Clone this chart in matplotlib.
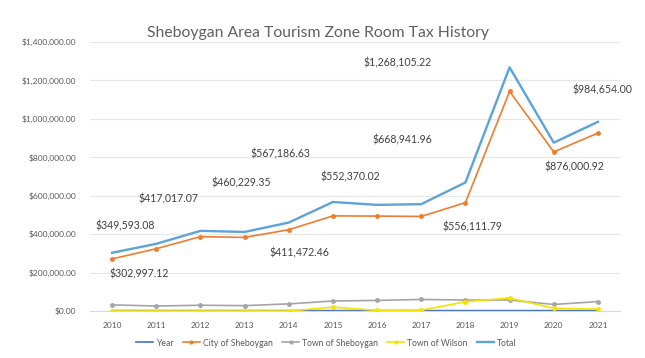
import matplotlib.pyplot as plt
from matplotlib.ticker import FuncFormatter

years = [2010, 2011, 2012, 2013, 2014, 2015, 2016, 2017, 2018, 2019, 2020, 2021]
city = [271000, 324000, 387000, 383000, 423000, 495000, 494000, 492000, 564000, 1143000, 828000, 926000]
town_sheb = [32000, 26000, 30000, 28000, 37000, 52000, 55000, 60000, 57000, 57000, 34000, 49000]
town_wilson = [0, 0, 0, 0, 0, 20000, 3000, 4000, 48000, 68000, 14000, 10000]
total = [302997.12, 349593.08, 417017.07, 411472.46, 460229.35, 567186.63,
         552370.02, 556111.79, 668941.96, 1268105.22, 876000.92, 984654.00]

# data labels, dragged around by hand in the original (figure pixel positions)
label_pos = [(139, 274), (125, 226), (169, 199), (299, 253), (241, 183), (280, 154),
             (350, 177), (472, 227), (402, 140), (398, 63), (574, 167), (602, 90)]

plt.rcParams['font.family'] = ['Lato', 'DejaVu Sans']

fig = plt.figure(figsize=(6.45, 3.58), dpi=100)
ax = fig.add_axes([90/645, 1-311/358, 530/645, 269/358])

x = list(range(len(years)))
ax.plot(x, years, color='#4472C4', lw=1.2, label='Year', zorder=2)
ax.plot(x, city, color='#ED7D31', lw=1.2, marker='o', ms=2.5, label='City of Sheboygan', zorder=3)
ax.plot(x, town_sheb, color='#A5A5A5', lw=1.2, marker='o', ms=2.5, label='Town of Sheboygan', zorder=3)
ax.plot(x, town_wilson, color='#F5E400', lw=1.2, marker='o', ms=2.5, label='Town of Wilson', zorder=4)
ax.plot(x, total, color='#5BA3D9', lw=1.7, label='Total', zorder=3)

ax.set_xlim(-0.5, len(years) - 0.5)
ax.set_ylim(0, 1400000)
ax.set_yticks(range(0, 1400001, 200000))
ax.yaxis.set_major_formatter(FuncFormatter(lambda v, p: '${:,.2f}'.format(v)))
ax.set_xticks(x)
ax.set_xticklabels([str(y) for y in years])
ax.grid(axis='y', color='#E6E6E6', lw=0.8)
ax.set_axisbelow(True)
for s in ['top', 'right', 'left']:
    ax.spines[s].set_visible(False)
ax.spines['bottom'].set_color('#D9D9D9')
ax.tick_params(length=0, labelsize=6, labelcolor='#595959')
ax.tick_params(axis='x', pad=8)
ax.tick_params(axis='y', pad=10)

for v, (px, py) in zip(total, label_pos):
    fig.text(px/645, 1-py/358, '${:,.2f}'.format(v), ha='center', va='center',
             fontsize=7.6, color='#404040')

fig.text(318/645, 1-33/358, 'Sheboygan Area Tourism Zone Room Tax History',
         ha='center', va='center', fontsize=11.3, color='#606060')

fig.legend(loc='center', bbox_to_anchor=(326/645, 1-343/358), ncol=5, frameon=False,
           fontsize=6.2, labelcolor='#595959', handlelength=2, handletextpad=0.3,
           columnspacing=1.1, markerscale=0.8)

fig.savefig('out.png', dpi=100, facecolor='white')
